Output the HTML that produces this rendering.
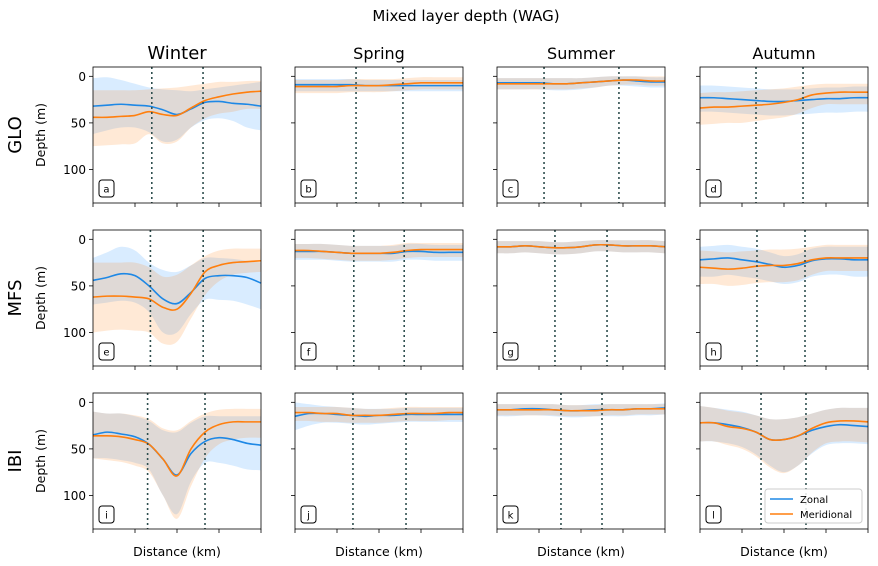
<!DOCTYPE html>
<html><head><meta charset="utf-8"><style>
body{margin:0;background:#fff}
svg{display:block;font-family:"DejaVu Sans","Liberation Sans",sans-serif}
</style></head><body>
<svg id="c" width="878" height="566" viewBox="0 0 878 566"></svg>
<script>
const panelLetters=["a","b","c","d","e","f","g","h","i","j","k","l"];
const seasons=["Winter","Spring","Summer","Autumn"];
const regions=["GLO","MFS","IBI"];
const yTicks=[0,50,100];
const dotted=[[4.2,7.86],[4.36,7.71],[3.36,8.71],[4,7.36],[4.1,7.87],[4.2,7.8],[4.14,7.86],[4.07,7.5],[3.9,8],[4.14,7.93],[4.57,7.5],[4.36,7.57]];
const zMean=[
[32,31,30,31,32,36,41,35,28,27,29,30,32],
[9,9,9,9,9,10,10,10,10,10,10,10,10],
[7,7,7,7,8,8,7,6,5,4,5,6,6],
[23,23,24,25,26,27,27,26,25,24,24,23,23],
[44,41,37,39,50,64,69,57,42,39,39,41,47],
[13,13,13,14,15,15,15,15,13,13,14,14,14],
[8,8,7,8,9,9,8,6,6,7,7,7,8],
[22,21,20,22,24,27,30,28,23,21,21,22,22],
[35,32,34,37,45,61,78,55,42,38,40,44,46],
[15,12,12,13,14,15,14,14,13,13,13,13,13],
[8,8,7,7,8,9,9,8,8,8,7,7,6],
[22,22,24,27,32,40,40,36,30,26,24,25,26]];
const zLo=[
[2,1,4,8,12,14,15,16,14,12,10,8,6],
[3,3,3,3,3,4,4,4,4,4,4,4,4],
[2,2,2,2,2,2,2,1,0,0,0,1,1],
[10,10,11,12,13,14,14,14,13,12,12,11,11],
[20,14,8,12,25,33,35,28,20,20,21,23,25],
[5,5,5,6,7,7,7,7,5,5,6,6,6],
[2,2,2,2,3,3,2,1,1,1,1,1,2],
[8,7,6,8,10,14,18,16,10,8,8,8,8],
[10,12,12,15,20,30,32,22,15,15,15,15,15],
[0,2,4,5,6,7,7,7,6,6,6,6,6],
[2,2,2,2,2,3,3,2,2,2,2,2,1],
[4,6,8,10,14,18,18,16,12,8,6,6,6]];
const zHi=[
[62,58,55,55,60,70,68,55,47,45,48,55,58],
[16,16,16,16,16,16,16,16,16,16,16,16,16],
[14,14,14,14,15,15,14,12,10,10,11,12,12],
[38,38,39,40,41,42,42,41,40,39,39,38,38],
[70,68,66,68,78,100,100,80,65,65,66,70,75],
[22,22,22,23,24,24,24,24,22,22,23,23,23],
[15,15,14,15,16,16,15,13,13,14,14,14,15],
[40,40,38,40,42,45,48,46,40,38,38,40,40],
[60,60,62,65,72,100,120,85,65,65,68,72,73],
[30,25,22,22,23,24,23,22,21,21,21,21,21],
[15,15,14,14,15,16,16,15,15,15,14,14,13],
[42,42,44,48,56,68,75,68,55,46,44,44,45]];
const mMean=[
[44,44,43,42,38,41,42,34,26,22,19,17,16],
[11,11,11,11,10,10,10,9,8,7,7,7,7],
[8,8,8,8,8,8,7,6,5,4,4,5,5],
[34,33,33,32,31,30,28,25,20,18,17,17,17],
[62,61,61,62,64,73,75,58,35,28,25,24,23],
[12,12,13,14,15,15,15,14,12,11,11,11,11],
[8,8,7,8,9,9,8,6,6,7,7,7,8],
[30,31,32,31,29,28,28,26,22,20,20,20,20],
[36,36,37,40,45,61,79,50,32,24,21,21,21],
[11,11,12,12,14,14,14,13,12,12,12,11,11],
[8,8,8,8,8,9,9,9,8,8,7,7,7],
[22,22,26,28,32,40,40,36,28,22,20,20,21]];
const mLo=[
[15,15,15,15,14,13,12,10,8,6,6,5,5],
[4,4,4,4,3,3,3,3,2,1,1,1,1],
[2,2,2,2,2,2,2,1,0,0,0,0,0],
[18,17,17,16,15,14,13,11,9,8,8,8,8],
[25,25,25,25,30,40,38,28,18,12,10,10,10],
[5,5,5,6,7,7,7,6,4,4,4,4,4],
[2,2,2,2,3,3,2,1,1,1,1,1,2],
[12,13,14,13,12,11,11,10,8,6,6,6,6],
[10,12,12,14,18,28,30,20,12,8,7,7,7],
[5,5,5,5,6,7,7,6,5,5,5,5,5],
[2,2,2,2,2,3,3,3,2,2,2,2,2],
[4,6,9,11,14,18,18,16,12,8,6,6,6]];
const mHi=[
[75,74,73,72,62,72,70,55,45,40,38,35,35],
[18,18,18,18,17,17,17,16,15,14,14,14,14],
[14,14,14,14,14,14,13,12,10,9,9,10,10],
[52,51,50,50,48,46,44,40,34,30,30,30,30],
[100,98,97,98,100,112,110,85,60,45,38,36,35],
[20,20,21,22,23,23,23,22,20,19,19,19,19],
[15,15,14,15,16,16,15,13,13,14,14,14,15],
[48,48,50,49,47,46,46,44,38,34,34,34,34],
[60,62,64,68,75,100,125,90,60,45,40,38,38],
[20,20,21,21,22,22,22,21,20,20,20,19,19],
[14,14,14,14,14,15,15,15,14,14,13,13,13],
[42,42,46,50,58,70,76,68,54,44,42,42,43]];

const NS="http://www.w3.org/2000/svg";
const svg=document.getElementById('c');
function mk(tag,attrs,parent){const e=document.createElementNS(NS,tag);for(const k in attrs)e.setAttribute(k,attrs[k]);(parent||svg).appendChild(e);return e;}
const colX=[93,295,497,700], PW=168, rowY=[67,230,393], PH=136;
const Y0=-10, Y1=136;
function path(pts){let d="M"+pts[0][0]+","+pts[0][1];for(let i=0;i<pts.length-1;i++){const p0=pts[i-1]||pts[i],p1=pts[i],p2=pts[i+1],p3=pts[i+2]||p2;d+=" C"+(p1[0]+(p2[0]-p0[0])/6)+","+(p1[1]+(p2[1]-p0[1])/6)+" "+(p2[0]-(p3[0]-p1[0])/6)+","+(p2[1]-(p3[1]-p1[1])/6)+" "+p2[0]+","+p2[1];}return d;}

let t=mk('text',{x:466,y:21,'text-anchor':'middle','font-size':15,fill:'#000'});t.textContent="Mixed layer depth (WAG)";


for(let r=0;r<3;r++)for(let c=0;c<4;c++){
 const i=r*4+c, x0=colX[c], y0=rowY[r];
 const sx=v=>x0+v/12*PW, sy=v=>y0+(v-Y0)/(Y1-Y0)*PH;
 const g=mk('g',{});
 
 
 const band=(lo,hi,col,name)=>{const up=lo.map((v,k)=>[sx(k),sy(v)]),dn=hi.map((v,k)=>[sx(k),sy(v)]).reverse();
  const pd=path(dn);
  let d=path(up)+" L"+dn[0][0]+","+dn[0][1]+pd.slice(pd.indexOf(" C"))+"Z";
  const e=mk('path',{d:d,fill:col,'fill-opacity':0.17,stroke:'none'},g);
  };
 band(zLo[i],zHi[i],'#1e90ff','zonal-band');
 band(mLo[i],mHi[i],'#ff7f0e','meridional-band');
 const line=(arr,col,name)=>{const e=mk('path',{d:path(arr.map((v,k)=>[sx(k),sy(v)])),fill:'none',stroke:col,'stroke-width':1.6},g);
  };
 line(zMean[i],'#1e88e5','zonal-line');
 line(mMean[i],'#ff7f0e','meridional-line');
 dotted[i].forEach(v=>{const e=mk('line',{x1:sx(v),x2:sx(v),y1:y0,y2:y0+PH,stroke:'#2f4f4f','stroke-width':1.6,'stroke-dasharray':'2,3'},g);
  });
 const fr=mk('rect',{x:x0,y:y0,width:PW,height:PH,fill:'none',stroke:'#000','stroke-width':0.8},g);
 
 for(let k=0;k<5;k++){mk('line',{x1:x0+k*PW/4,x2:x0+k*PW/4,y1:y0+PH,y2:y0+PH+4,stroke:'#000','stroke-width':0.8},g);}
 yTicks.forEach(v=>{mk('line',{x1:x0-4,x2:x0,y1:sy(v),y2:sy(v),stroke:'#000','stroke-width':0.8},g);
  if(c===0){const tl=mk('text',{x:x0-7,y:sy(v)+4.5,'text-anchor':'end','font-size':12,fill:'#000'},g);tl.textContent=v;
  }});
 const lb=mk('rect',{x:x0+6,y:y0+113,width:15,height:17,rx:3,fill:'#fff',stroke:'#000','stroke-width':1},g);
 
 const lt=mk('text',{x:x0+13.5,y:y0+125.5,'text-anchor':'middle','font-size':10,fill:'#000'},g);lt.textContent=panelLetters[i];
 
 if(r===0){const st=mk('text',{x:x0+PW/2,y:59,'text-anchor':'middle','font-size':c===0?18:16,fill:'#000'});st.textContent=seasons[c];
  }
 if(r===2){const xt=mk('text',{x:x0+PW/2,y:556,'text-anchor':'middle','font-size':12.5,fill:'#000'});xt.textContent="Distance (km)";
  }
 if(c===0){const cy=y0+PH/2;
  const rl=mk('text',{x:0,y:0,'text-anchor':'middle','font-size':18,fill:'#000',transform:`translate(21,${cy}) rotate(-90)`});rl.textContent=regions[r];
  
  const yl=mk('text',{x:0,y:0,'text-anchor':'middle','font-size':12.5,fill:'#000',transform:`translate(45,${cy}) rotate(-90)`});yl.textContent="Depth (m)";
  }
}
const lg=mk('g',{});

mk('rect',{x:765,y:489,width:97,height:34,rx:3,fill:'#fff','fill-opacity':0.85,stroke:'#ccc'},lg);
[['Zonal','#1e88e5',502],['Meridional','#ff7f0e',517]].forEach(([n,col,y])=>{
 mk('line',{x1:770,x2:793,y1:y-3,y2:y-3,stroke:col,'stroke-width':1.6},lg);
 const e=mk('text',{x:800,y:y+1,'font-size':10,fill:'#000'},lg);e.textContent=n;
 });
</script>
</body></html>
